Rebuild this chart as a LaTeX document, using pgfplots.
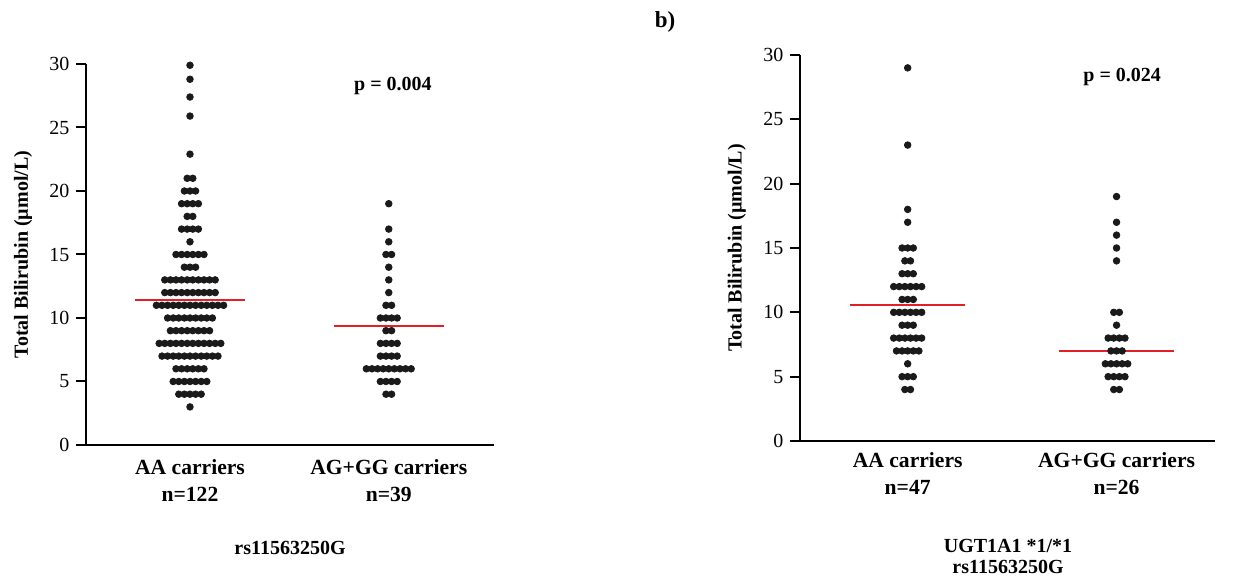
\documentclass[border=0pt]{standalone}
\usepackage{fontspec}
\setmainfont{Liberation Serif}
\usepackage{pgfplots}
\pgfplotsset{compat=1.18}
\definecolor{dotc}{HTML}{1A1A1A}
\definecolor{meanred}{HTML}{E31E24}
\pgfplotsset{
  swarm/.style={
    scale only axis, clip=false,
    axis lines*=left,
    axis line style={line width=1pt, black},
    ymin=0, ymax=30, ytick={0,5,...,30}, minor tick num=0,
    tick align=outside, major tick length=4.8pt,
    tick style={line width=1pt, black},
    xtick style={draw=none},
    /pgf/number format/assume math mode=true,
    yticklabel style={font=\fontsize{10}{12}\selectfont},
    xticklabel style={align=center, font=\fontsize{10.8}{13.5}\selectfont\bfseries},
    ylabel={Total Bilirubin (µmol/L)},
    ylabel style={font=\bfseries, anchor=center},
  },
  dots/.style={only marks, mark=*, mark size=1.65pt, mark options={fill=dotc, draw=dotc}},
  mean/.style={meanred, line width=1.1pt, forget plot},
}
\begin{document}
\begin{tikzpicture}
\path[use as bounding box] (0,0) rectangle (616.5pt,289pt);

\begin{axis}[swarm, at={(43pt,66.5pt)}, anchor=south west,
  width=204pt, height=190.5pt, xmin=-18.57, xmax=54.29,
  xtick={0,35.5}, xticklabels={{AA carriers\\n=122},{AG+GG carriers\\n=39}},
  xticklabel style={yshift=1pt},
  ylabel style={at={(axis description cs:-0.154,0.5)}}]
\addplot[mean] coordinates {(-9.8,11.4) (9.8,11.4)};
\addplot[mean] coordinates {(25.7,9.4) (45.3,9.4)};
% AA carriers
\addplot[dots] coordinates {
(0,29.9) (0,28.8) (0,27.4) (0,25.9) (0,22.9)
(-0.5,21) (0.5,21)
(-1,20) (0,20) (1,20)
(-1.5,19) (-0.5,19) (0.5,19) (1.5,19)
(-0.5,18) (0.5,18)
(-1.5,17) (-0.5,17) (0.5,17) (1.5,17)
(0,16)
(-2.5,15) (-1.5,15) (-0.5,15) (0.5,15) (1.5,15) (2.5,15)
(-1,14) (0,14) (1,14)
(-4.5,13) (-3.5,13) (-2.5,13) (-1.5,13) (-0.5,13) (0.5,13) (1.5,13) (2.5,13) (3.5,13) (4.5,13)
(-4.5,12) (-3.5,12) (-2.5,12) (-1.5,12) (-0.5,12) (0.5,12) (1.5,12) (2.5,12) (3.5,12) (4.5,12)
(-6,11) (-5,11) (-4,11) (-3,11) (-2,11) (-1,11) (0,11) (1,11) (2,11) (3,11) (4,11) (5,11) (6,11)
(-4,10) (-3,10) (-2,10) (-1,10) (0,10) (1,10) (2,10) (3,10) (4,10)
(-3.5,9) (-2.5,9) (-1.5,9) (-0.5,9) (0.5,9) (1.5,9) (2.5,9) (3.5,9)
(-5.5,8) (-4.5,8) (-3.5,8) (-2.5,8) (-1.5,8) (-0.5,8) (0.5,8) (1.5,8) (2.5,8) (3.5,8) (4.5,8) (5.5,8)
(-5,7) (-4,7) (-3,7) (-2,7) (-1,7) (0,7) (1,7) (2,7) (3,7) (4,7) (5,7)
(-2.5,6) (-1.5,6) (-0.5,6) (0.5,6) (1.5,6) (2.5,6)
(-3,5) (-2,5) (-1,5) (0,5) (1,5) (2,5) (3,5)
(-2,4) (-1,4) (0,4) (1,4) (2,4)
(0,3)
};
% AG+GG carriers
\addplot[dots] coordinates {
(35.5,19) (35.5,17) (35.5,16)
(35,15) (36,15)
(35.5,14) (35.5,13) (35.5,12)
(35,11) (36,11)
(34,10) (35,10) (36,10) (37,10)
(35,9) (36,9)
(34,8) (35,8) (36,8) (37,8)
(34,7) (35,7) (36,7) (37,7)
(31.5,6) (32.5,6) (33.5,6) (34.5,6) (35.5,6) (36.5,6) (37.5,6) (38.5,6) (39.5,6)
(34,5) (35,5) (36,5) (37,5)
(35,4) (36,4)
};
\node[font=\bfseries] at (axis cs:36.25,28.3) {p = 0.004};
\end{axis}

\begin{axis}[swarm, at={(400pt,68.5pt)}, anchor=south west,
  width=207.5pt, height=193pt, xmin=-19.23, xmax=54.88,
  xtick={0,37.3}, xticklabels={{AA carriers\\n=47},{AG+GG carriers\\n=26}},
  xticklabel style={yshift=2.5pt},
  ylabel style={at={(axis description cs:-0.152,0.5)}}]
\addplot[mean] coordinates {(-10.3,10.6) (10.3,10.6)};
\addplot[mean] coordinates {(27,7) (47.6,7)};
% AA carriers
\addplot[dots] coordinates {
(0,29) (0,23) (0,18) (0,17)
(-1,15) (0,15) (1,15)
(-0.5,14) (0.5,14)
(-1,13) (0,13) (1,13)
(-2.5,12) (-1.5,12) (-0.5,12) (0.5,12) (1.5,12) (2.5,12)
(-1,11) (0,11) (1,11)
(-2.5,10) (-1.5,10) (-0.5,10) (0.5,10) (1.5,10) (2.5,10)
(-1,9) (0,9) (1,9)
(-2.5,8) (-1.5,8) (-0.5,8) (0.5,8) (1.5,8) (2.5,8)
(-2,7) (-1,7) (0,7) (1,7) (2,7)
(0,6)
(-1,5) (0,5) (1,5)
(-0.5,4) (0.5,4)
};
% AG+GG carriers
\addplot[dots] coordinates {
(37.3,19) (37.3,17) (37.3,16) (37.3,15) (37.3,14)
(36.8,10) (37.8,10)
(37.3,9)
(35.8,8) (36.8,8) (37.8,8) (38.8,8)
(36.3,7) (37.3,7) (38.3,7)
(35.3,6) (36.3,6) (37.3,6) (38.3,6) (39.3,6)
(35.8,5) (36.8,5) (37.8,5) (38.8,5)
(36.8,4) (37.8,4)
};
\node[font=\bfseries] at (axis cs:38.3,28.3) {p = 0.024};
\end{axis}

\node[font=\fontsize{11.5}{14}\selectfont\bfseries] at (332.5pt,278pt) {b)};
\node[font=\bfseries] at (145pt,15pt) {rs11563250G};
\node[font=\fontsize{10}{10.5}\selectfont\bfseries, align=center] at (504pt,10.75pt) {UGT1A1 *1/*1\\rs11563250G};
\end{tikzpicture}
\end{document}
